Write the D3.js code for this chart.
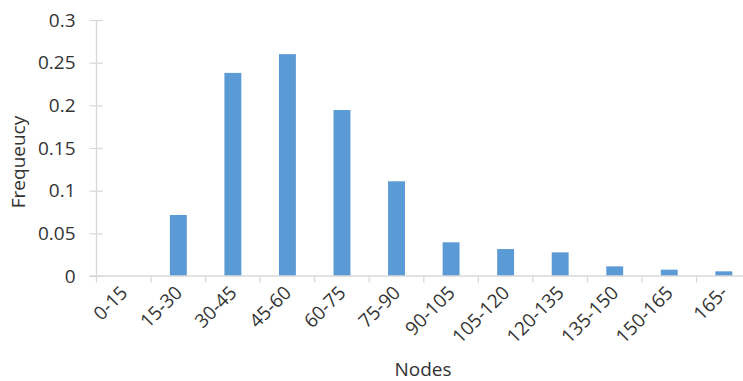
<!DOCTYPE html>
<html>
<head>
<meta charset="utf-8">
<script src="https://cdn.jsdelivr.net/npm/d3@7"></script>
<style>
  html, body { margin: 0; padding: 0; background: #ffffff; }
  svg { display: block; }
  text { font-family: "Open Sans", "Noto Sans", sans-serif; fill: #333333; }
</style>
</head>
<body>
<svg id="chart" width="743" height="381"></svg>
<script>
// Node-count bins and their relative frequencies
const categories = ["0-15", "15-30", "30-45", "45-60", "60-75", "75-90",
                    "90-105", "105-120", "120-135", "135-150", "150-165", "165-"];
const frequency = [0, 0.0715, 0.238, 0.260, 0.1945, 0.111,
                   0.0395, 0.0316, 0.0277, 0.0113, 0.0074, 0.0055];
const yTicks = [0, 0.05, 0.1, 0.15, 0.2, 0.25, 0.3];
const yTickLabels = ["0", "0.05", "0.1", "0.15", "0.2", "0.25", "0.3"];
const xTitle = "Nodes";
const yTitle = "Frequeucy";

const svg = d3.select("#chart");
const axisColor = "#d9d9d9";
const barColor = "#5b9bd5";
const fontSize = 19;

// Plot area: the category axis runs a little past the right edge of the page
const plotLeft = 96.5, plotBottom = 276, plotTop = 20;
const step = 54.55;
const x = d3.scaleBand()
  .domain(categories)
  .range([plotLeft, plotLeft + step * categories.length])
  .padding(0);
const y = d3.scaleLinear().domain([0, 0.3]).range([plotBottom, plotTop]);
const barWidth = x.bandwidth() * 0.31;

// Y axis: line with cross tick marks
const yAxis = d3.axisLeft(y)
  .tickValues(yTicks)
  .tickFormat((d, i) => yTickLabels[i])
  .tickSizeInner(0)
  .tickSizeOuter(0)
  .tickPadding(21);
const gy = svg.append("g").attr("transform", `translate(${plotLeft},0)`).call(yAxis);
gy.select(".domain").remove();
gy.selectAll(".tick text")
  .style("font-size", fontSize + "px")
  .attr("fill", "#333333")
  .style("font-family", '"Open Sans", sans-serif');
gy.selectAll(".tick").append("line")
  .attr("x1", -7).attr("x2", 6)
  .attr("stroke", axisColor).attr("stroke-width", 1.3);
gy.append("line")
  .attr("x1", 0).attr("x2", 0)
  .attr("y1", y(0.3)).attr("y2", plotBottom + 6.5)
  .attr("stroke", axisColor).attr("stroke-width", 1.3);

// Bars
svg.append("g").selectAll("rect")
  .data(categories.map((c, i) => ({ c, v: frequency[i] })))
  .join("rect")
  .attr("x", d => x(d.c) + (x.bandwidth() - barWidth) / 2)
  .attr("width", barWidth)
  .attr("y", d => y(d.v))
  .attr("height", d => y(0) - y(d.v))
  .attr("fill", barColor);

// X axis: baseline, boundary ticks, rotated category labels
const gx = svg.append("g");
gx.append("line")
  .attr("x1", plotLeft - 7).attr("x2", x.range()[1])
  .attr("y1", plotBottom).attr("y2", plotBottom)
  .attr("stroke", axisColor).attr("stroke-width", 1.3);
gx.selectAll("line.bound")
  .data(categories)
  .join("line")
  .attr("class", "bound")
  .attr("x1", d => x(d) + x.bandwidth())
  .attr("x2", d => x(d) + x.bandwidth())
  .attr("y1", plotBottom).attr("y2", plotBottom + 6.5)
  .attr("stroke", axisColor).attr("stroke-width", 1.3);
gx.selectAll("text")
  .data(categories)
  .join("text")
  .attr("text-anchor", "end")
  .attr("transform", d => `translate(${x(d) + x.bandwidth() / 2 + 5},${plotBottom + 18}) rotate(-45)`)
  .style("font-size", fontSize + "px")
  .text(d => d);

// Axis titles
svg.append("text")
  .attr("x", 423).attr("y", 376)
  .attr("text-anchor", "middle")
  .style("font-size", fontSize + "px")
  .text(xTitle);
svg.append("text")
  .attr("transform", "translate(25,162) rotate(-90)")
  .attr("text-anchor", "middle")
  .style("font-size", fontSize + "px")
  .text(yTitle);
</script>
</body>
</html>
